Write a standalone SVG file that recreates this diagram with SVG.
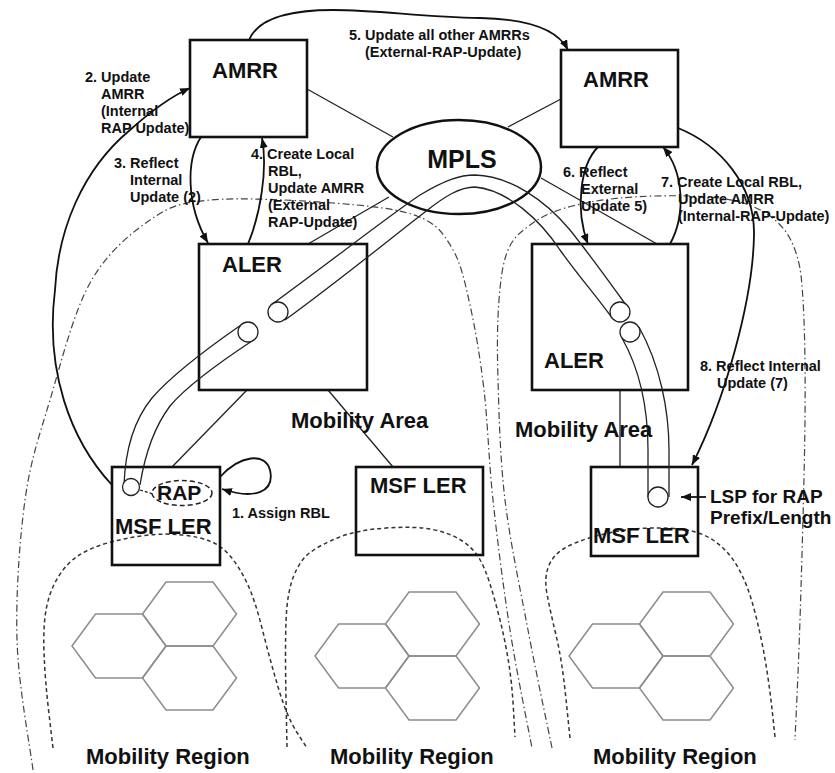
<svg xmlns="http://www.w3.org/2000/svg" width="835" height="773" viewBox="0 0 835 773">
  <style>
    text { font-family: "Liberation Sans", Arial, Helvetica, sans-serif; font-weight: bold; fill: #111; }
    .step { font-size: 14.5px; }
    .node { font-size: 22px; }
    .mpls { font-size: 25px; }
    .lsp { font-size: 19px; }
    .area-lbl { font-size: 22px; }
    .box { fill: none; stroke: #111; stroke-width: 2.6; }
    .conn { fill: none; stroke: #222; stroke-width: 1.3; }
    .arr { fill: none; stroke: #111; stroke-width: 1.8; marker-end: url(#ah); }
    .tube { fill: none; stroke: #222; stroke-width: 1.3; }
    .port { fill: #fff; stroke: #222; stroke-width: 1.3; }
    .region { fill: none; stroke: #333; stroke-width: 1.5; stroke-dasharray: 4 3; }
    .area { fill: none; stroke: #444; stroke-width: 1.2; stroke-dasharray: 7 3 1.5 3; }
    .hex { fill: none; stroke: #8c8c8c; stroke-width: 1.5; }
  </style>
  <defs>
    <marker id="ah" viewBox="0 0 10 8" refX="10" refY="4" markerWidth="10" markerHeight="8" markerUnits="userSpaceOnUse" orient="auto">
      <path d="M0,0 L10,4 L0,8 Z" fill="#111"/>
    </marker>
    <path id="hex" d="M-47,0 L-23.5,-32 L23.5,-32 L47,0 L23.5,32 L-23.5,32 Z"/>
    <g id="cells">
      <use href="#hex" x="0" y="0"/>
      <use href="#hex" x="70.5" y="-32"/>
      <use href="#hex" x="70.5" y="32"/>
    </g>
  </defs>

  <rect x="0" y="0" width="835" height="773" fill="#fff"/>

  <!-- radio cells of each mobility region -->
  <g id="cells-layer" class="hex">
    <use href="#cells" x="119" y="646"/>
    <use href="#cells" x="362" y="656"/>
    <use href="#cells" x="616" y="656"/>
  </g>

  <!-- mobility region boundaries (dashed) -->
  <g id="regions">
    <path class="region" d="M53,748 L49,714 Q45,680 44,652.5 Q43,625 46.5,607.5 Q50,590 58.5,576.5 Q67,563 78.5,555.5 Q90,548 107.5,543 Q125,538 145,535.5 Q165,533 182.5,535 Q200,537 211,541.5 Q222,546 231,557 Q240,568 247.5,584 Q255,600 262.5,630 Q270,660 278.5,688.5 Q287,717 297,732.5 L307,748"/>
    <path class="region" d="M287,747 L286,698.5 Q285,650 286,621.5 Q287,593 293.5,576.5 Q300,560 310,552.5 Q320,545 338.5,537.5 Q357,530 386,528 Q415,526 432.5,529.5 Q450,533 461.5,540.5 Q473,548 479,558 Q485,568 490,584 Q495,600 500,620 Q505,640 508.5,661.5 Q512,683 513.5,710 L515,737"/>
    <path class="region" d="M570,738 L566,699 Q562,660 556,635 Q550,610 547,594 Q544,578 548.5,566.5 Q553,555 564,548.5 Q575,542 592.5,537 Q610,532 630,529.5 Q650,527 674,528.5 Q698,530 713,540 Q728,550 738,567.5 Q748,585 755,612.5 Q762,640 766,665 Q770,690 772.5,713.5 L775,737"/>
  </g>

  <!-- mobility area boundaries (dash-dot) -->
  <g id="areas">
    <path class="area" d="M33,770 C30.3,748.3 18.3,685 17,640 C15.7,595 19.5,540 25,500 C30.5,460 39.2,436.2 50,400 C60.8,363.8 73.3,313 90,283 C106.7,253 130,233.8 150,220 C170,206.2 179.5,202.8 210,200 C240.5,197.2 298.5,200.3 333,203 C367.5,205.7 397.2,208.5 417,216 C436.8,223.5 443.2,233.2 452,248 C460.8,262.8 464.7,281.3 470,305 C475.3,328.7 480.2,357.5 484,390 C487.8,422.5 488.7,460 493,500 C497.3,540 503.5,588.7 510,630 C516.5,671.3 528.3,728.3 532,748"/>
    <path class="area" d="M552,748 C548,728.3 535.8,671.3 528,630 C520.2,588.7 510,541.7 505,500 C500,458.3 499,413.3 498,380 C497,346.7 497.3,321.7 499,300 C500.7,278.3 502.8,262.5 508,250 C513.2,237.5 520.5,232 530,225 C539.5,218 550,212.5 565,208 C580,203.5 599.2,200 620,198 C640.8,196 670,195.3 690,196 C710,196.7 725.8,198 740,202 C754.2,206 765.8,212 775,220 C784.2,228 790.3,236.7 795,250 C799.7,263.3 801.3,271.7 803,300 C804.7,328.3 805.5,366.7 805,420 C804.5,473.3 801.7,566.7 800,620 C798.3,673.3 795.8,720 795,740"/>
  </g>

  <!-- plain links between nodes -->
  <g id="connectors">
    <line class="conn" x1="307" y1="89" x2="393" y2="137"/>
    <line class="conn" x1="561" y1="99" x2="508" y2="127"/>
    <line class="conn" x1="308" y1="244" x2="389" y2="197"/>
    <line class="conn" x1="541" y1="178" x2="657" y2="244"/>
    <line class="conn" x1="247" y1="390" x2="172" y2="467"/>
    <line class="conn" x1="328" y1="390" x2="393" y2="467"/>
    <line class="conn" x1="620" y1="390" x2="620" y2="467"/>

    <!-- numbered signalling steps -->
    <path class="arr" d="M220,477 C240,455 265,452 270,470 C275,492 255,500 222,489"/>
    <path class="arr" d="M112,485 C70,440 45,370 55,290 C58,230 82,170 130,130 C150,112 170,97 190,88"/>
    <path class="arr" d="M201,137 C186,160 186,205 208,243"/>
    <path class="arr" d="M248,244 C260,215 268,170 262,138"/>
    <path class="arr" d="M249,40 C258,18 290,10 333,10 C380,10 420,17 480,18 C530,19 558,30 568,50"/>
    <path class="arr" d="M598,147 C580,165 575,210 588,244"/>
    <path class="arr" d="M670,244 C686,215 684,172 663,147"/>
    <path class="arr" d="M678,128 C720,145 755,185 754,235 C753,300 725,400 692,465"/>
    <path class="arr" d="M706,497 L681,497"/>
  </g>

  <!-- nodes -->
  <g id="amrr-left">
    <rect class="box" x="190" y="40" width="117" height="97"/>
    <text class="node" x="212" y="78">AMRR</text>
  </g>
  <g id="amrr-right">
    <rect class="box" x="561" y="50" width="117" height="97"/>
    <text class="node" x="583" y="87">AMRR</text>
  </g>
  <g id="mpls">
    <ellipse cx="459" cy="167" rx="82" ry="47" fill="none" stroke="#111" stroke-width="2.5"/>
    <text class="mpls" x="462" y="168" text-anchor="middle">MPLS</text>
  </g>
  <g id="aler-left">
    <rect class="box" x="199" y="244" width="168" height="146"/>
    <text class="node" x="222" y="272">ALER</text>
  </g>
  <g id="aler-right">
    <rect class="box" x="532" y="244" width="156" height="146"/>
    <text class="node" x="544" y="368">ALER</text>
  </g>
  <g id="msf-left">
    <rect class="box" x="112" y="467" width="108" height="98"/>
    <ellipse cx="182" cy="493" rx="30" ry="12.5" fill="none" stroke="#222" stroke-width="1.5" stroke-dasharray="5 3"/>
    <text class="node" x="157" y="500" style="font-size:21px">RAP</text>
    <text class="node" x="115" y="534">MSF LER</text>
  </g>
  <g id="msf-mid">
    <rect class="box" x="356" y="467" width="127" height="88"/>
    <text class="node" x="370" y="493">MSF LER</text>
  </g>
  <g id="msf-right">
    <rect class="box" x="591" y="467" width="107" height="89"/>
    <text class="node" x="593" y="543">MSF LER</text>
  </g>

  <!-- label switched path tunnels -->
  <g id="lsp">
    <path class="tube" d="M241,325 C205,350 170,377 152,398 C134,420 125,452 124,486"/>
    <path class="tube" d="M255,339 C220,362 185,388 170,406 C152,430 144,460 140,485"/>
    <path class="tube" d="M271,305 C330,262 390,215 420,195 C445,180 460,175 475,175 C510,176 545,200 570,230 C590,255 608,280 626,305"/>
    <path class="tube" d="M285,320 C340,280 395,235 425,212 C445,196 460,187 475,187 C508,190 540,220 560,250 C580,278 598,298 612,318"/>
    <path class="tube" d="M622,338 C640,370 648,410 648,450 L648,497"/>
    <path class="tube" d="M639,327 C660,365 669,410 669,450 L669,497"/>
    <line x1="140" y1="490" x2="153" y2="494" stroke="#222" stroke-width="1.3" stroke-dasharray="3 2"/>
    <circle class="port" cx="131" cy="487" r="8.5"/>
    <circle class="port" cx="248" cy="332" r="10"/>
    <circle class="port" cx="278" cy="312" r="10"/>
    <circle class="port" cx="620" cy="312" r="10"/>
    <circle class="port" cx="630" cy="332" r="10"/>
    <circle class="port" cx="658" cy="497" r="10"/>
  </g>

  <!-- step labels -->
  <g id="labels">
    <text class="step" x="232" y="518">1. Assign RBL</text>
    <text class="step"><tspan x="85" y="82">2. Update</tspan><tspan x="101" y="99">AMRR</tspan><tspan x="101" y="116">(Internal</tspan><tspan x="101" y="133">RAP Update)</tspan></text>
    <text class="step"><tspan x="114" y="168">3. Reflect</tspan><tspan x="130" y="185">Internal</tspan><tspan x="130" y="202">Update (2)</tspan></text>
    <text class="step"><tspan x="251" y="159">4. Create Local</tspan><tspan x="268" y="176">RBL,</tspan><tspan x="268" y="193">Update AMRR</tspan><tspan x="268" y="210">(External</tspan><tspan x="268" y="227">RAP-Update)</tspan></text>
    <text class="step"><tspan x="349" y="40">5. Update all other AMRRs</tspan><tspan x="365" y="57">(External-RAP-Update)</tspan></text>
    <text class="step"><tspan x="563" y="177">6. Reflect</tspan><tspan x="581" y="194">External</tspan><tspan x="581" y="211">Update 5)</tspan></text>
    <text class="step"><tspan x="661" y="187">7. Create Local RBL,</tspan><tspan x="678" y="204">Update AMRR</tspan><tspan x="678" y="221">(Internal-RAP-Update)</tspan></text>
    <text class="step"><tspan x="700" y="371">8. Reflect Internal</tspan><tspan x="717" y="388">Update (7)</tspan></text>
    <text class="lsp"><tspan x="710" y="503">LSP for RAP</tspan><tspan x="710" y="524">Prefix/Length</tspan></text>
    <text class="area-lbl" x="291" y="428">Mobility Area</text>
    <text class="area-lbl" x="515" y="437">Mobility Area</text>
    <text class="area-lbl" x="86" y="764">Mobility Region</text>
    <text class="area-lbl" x="330" y="764">Mobility Region</text>
    <text class="area-lbl" x="593" y="764">Mobility Region</text>
  </g>
</svg>
